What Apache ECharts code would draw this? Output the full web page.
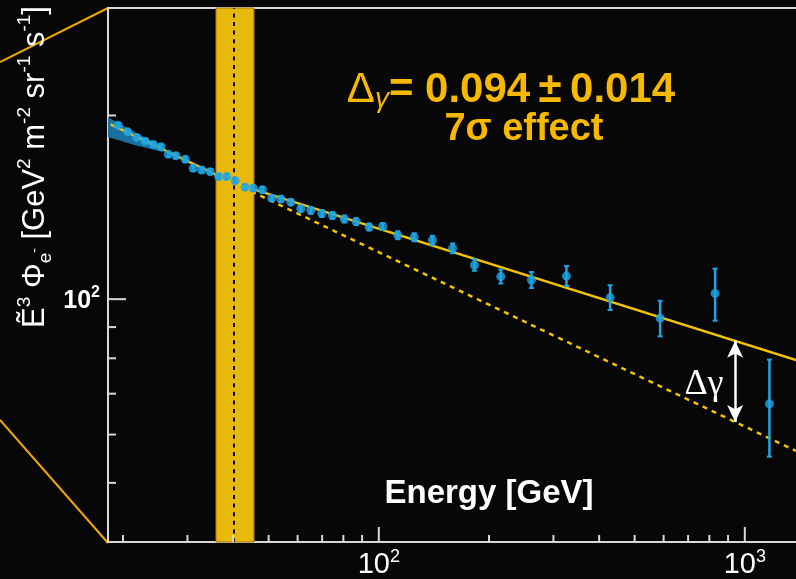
<!DOCTYPE html>
<html><head><meta charset="utf-8">
<script src="https://cdn.jsdelivr.net/npm/echarts@6/dist/echarts.min.js"></script>
<style>html,body{margin:0;padding:0;background:#070707;}#c{width:796px;height:579px;}</style>
</head><body><div id="c"></div>
<script>
// ---- data ----
const energy   = [19.4, 20.6, 21.8, 23.0, 24.2, 25.4, 26.6, 27.9, 29.6, 31.1, 32.8, 34.6, 36.5, 38.4, 40.5, 43.1, 45.4, 48.1, 51.0, 54.0, 57.5, 61.2, 65.2, 69.9, 74.7, 80.5, 86.7, 94.1, 102.5, 112.7, 124.9, 140.1, 159.1, 182.5, 215.4, 261.2, 325.6, 428.5, 587, 829.6, 1167.6];
const flux     = [192.8, 188.0, 184.1, 181.5, 179.3, 177.7, 172.7, 171.8, 169.5, 163.9, 162.8, 161.8, 158.8, 158.8, 156.4, 152.6, 152.0, 151.1, 146.4, 145.9, 144.2, 140.7, 139.8, 138.1, 137.1, 135.3, 134.0, 131.3, 131.6, 127.3, 126.3, 124.9, 121.1, 113.7, 108.9, 107.5, 109.1, 100.6, 93.1, 102.2, 67.4];
const fluxLow  = [191.2, 186.4, 182.5, 179.9, 177.7, 176.1, 171.1, 170.2, 167.9, 162.3, 161.2, 160.2, 157.2, 157.2, 154.8, 151.0, 150.4, 149.5, 144.8, 144.3, 142.6, 139.1, 138.0, 136.4, 135.4, 133.6, 132.3, 129.6, 129.9, 125.4, 124.4, 122.8, 118.9, 111.3, 106.1, 104.3, 105.1, 96.0, 86.9, 92.2, 55.2];
const fluxHigh = [194.4, 189.6, 185.7, 183.1, 180.9, 179.3, 174.3, 173.4, 171.1, 165.5, 164.4, 163.4, 160.4, 160.4, 158.0, 154.2, 153.6, 152.7, 148.0, 147.5, 145.8, 142.3, 141.6, 139.9, 138.8, 137.0, 135.7, 133.0, 133.3, 129.2, 128.2, 127.0, 123.4, 116.2, 111.8, 110.8, 113.3, 105.4, 99.4, 112.2, 79.6];

const bandE    = [18.2, 21.6, 25.75];
const bandLow  = [184.4, 178.8, 174.2];
const bandHigh = [198.7, 187.8, 177.5];

const fitE     = [18.5, 40.0, 1380];
const fitFlux  = [193.3, 155.1, 79.5];
const extE     = [40.0, 1380];
const extFlux  = [155.1, 56.4];

const breakE   = 40.06;
const breakBand = [35.9, 45.6];

const arrowE = 941, arrowTop = 85.5, arrowBottom = 62.9;

const X_MIN = 18.2, X_MAX = 1380, Y_MIN = 40, Y_MAX = 300;
const xMajorTicks = [100, 1000];
const xMinorTicks = [20, 30, 40, 50, 60, 70, 80, 90, 200, 300, 400, 500, 600, 700, 800, 900];
const yMajorTicks = [100];
const yMinorTicks = [50, 60, 70, 80, 90, 200];

const AXIS = '#d8d8d8';
const BLUE = '#1ea5e6';
const GOLD = '#f2c300';
const ORANGE = '#f6b800';
const FONT = 'Liberation Sans, Arial, sans-serif';

function tickSeries(values, axis, len) {
  return {
    type: 'custom', silent: true, z: 20, clip: false,
    data: values.map(v => axis === 'x' ? [v, Y_MIN] : [X_MIN, v]),
    renderItem(params, api) {
      const cs = params.coordSys;
      const p = api.coord([api.value(0), api.value(1)]);
      const shape = axis === 'x'
        ? {x1: p[0], y1: cs.y + cs.height, x2: p[0], y2: cs.y + cs.height - len}
        : {x1: cs.x, y1: p[1], x2: cs.x + len, y2: p[1]};
      return {type: 'line', shape, style: {stroke: AXIS, lineWidth: 2}};
    }
  };
}

const chart = echarts.init(document.getElementById('c'), null, {renderer: 'canvas'});
const supLabel = v => '{b|10}{s|' + Math.round(Math.log10(v)) + '}';

chart.setOption({
  backgroundColor: '#070707',
  animation: false,
  grid: {left: 108, right: 0, top: 8, bottom: 36},
  xAxis: [{
    type: 'log', min: X_MIN, max: X_MAX, position: 'bottom',
    axisLine: {lineStyle: {color: AXIS, width: 2}},
    axisTick: {show: false}, splitLine: {show: false},
    axisLabel: {
      showMinLabel: false, showMaxLabel: false, margin: 6,
      formatter: supLabel,
      rich: {
        b: {fontFamily: FONT, fontSize: 29, color: '#fff', lineHeight: 31, verticalAlign: 'bottom'},
        s: {fontFamily: FONT, fontSize: 18, color: '#fff', lineHeight: 31, verticalAlign: 'top'}
      }
    }
  }, {
    type: 'log', min: X_MIN, max: X_MAX, position: 'top',
    axisLine: {lineStyle: {color: AXIS, width: 2}},
    axisTick: {show: false}, axisLabel: {show: false}, splitLine: {show: false}
  }],
  yAxis: {
    type: 'log', min: Y_MIN, max: Y_MAX,
    axisLine: {lineStyle: {color: AXIS, width: 2}},
    axisTick: {show: false}, splitLine: {show: false},
    axisLabel: {
      showMinLabel: false, showMaxLabel: false, margin: 8,
      formatter: supLabel,
      rich: {
        b: {fontFamily: FONT, fontSize: 25, fontWeight: 'bold', color: '#fff', lineHeight: 29, verticalAlign: 'bottom'},
        s: {fontFamily: FONT, fontSize: 16, fontWeight: 'bold', color: '#fff', lineHeight: 29, verticalAlign: 'top'}
      }
    }
  },
  series: [
    { // break region band
      type: 'line', data: [], z: 1, silent: true,
      markArea: {
        silent: true,
        itemStyle: {color: '#e8b80a', borderColor: '#a57612', borderWidth: 1},
        data: [[{xAxis: breakBand[0]}, {xAxis: breakBand[1]}]]
      }
    },
    { // break position
      type: 'line', data: [], z: 2, silent: true,
      markLine: {
        silent: true, symbol: 'none', label: {show: false},
        lineStyle: {color: '#000', type: [4, 4.6], width: 2},
        data: [{xAxis: breakE}]
      }
    },
    { // fit uncertainty band
      type: 'custom', z: 3, silent: true,
      data: [[bandE[0], bandLow[0]]],
      renderItem(params, api) {
        const pts = [];
        for (let i = 0; i < bandE.length; i++) pts.push(api.coord([bandE[i], bandHigh[i]]));
        for (let i = bandE.length - 1; i >= 0; i--) pts.push(api.coord([bandE[i], bandLow[i]]));
        return {type: 'polygon', shape: {points: pts}, style: {fill: '#17709e'}};
      }
    },
    { // extrapolation of the low energy slope
      type: 'line', z: 4, silent: true, showSymbol: false,
      data: extE.map((e, i) => [e, extFlux[i]]),
      lineStyle: {color: GOLD, width: 2.5, type: [5, 5]}
    },
    { // fitted spectrum
      type: 'line', z: 4, silent: true, showSymbol: false,
      data: fitE.map((e, i) => [e, fitFlux[i]]),
      lineStyle: {color: GOLD, width: 2.5}
    },
    { // error bars
      type: 'custom', z: 6, silent: true,
      data: energy.map((e, i) => [e, fluxLow[i], fluxHigh[i]]),
      renderItem(params, api) {
        const lo = api.coord([api.value(0), api.value(1)]);
        const hi = api.coord([api.value(0), api.value(2)]);
        const c = 2.5;
        return {type: 'group', children: [
          {type: 'line', shape: {x1: lo[0], y1: lo[1], x2: hi[0], y2: hi[1]}, style: {stroke: BLUE, lineWidth: 2.5}},
          {type: 'line', shape: {x1: lo[0] - c, y1: lo[1], x2: lo[0] + c, y2: lo[1]}, style: {stroke: BLUE, lineWidth: 2}},
          {type: 'line', shape: {x1: hi[0] - c, y1: hi[1], x2: hi[0] + c, y2: hi[1]}, style: {stroke: BLUE, lineWidth: 2}}
        ]};
      }
    },
    { // data points
      type: 'scatter', z: 7, silent: true, symbolSize: 9,
      itemStyle: {color: BLUE},
      data: energy.map((e, i) => [e, flux[i]])
    },
    { // delta gamma arrow
      type: 'line', data: [], z: 8, silent: true,
      markLine: {
        silent: true, symbol: ['arrow', 'arrow'], symbolSize: [12, 17],
        label: {show: false},
        lineStyle: {color: '#ffffff', type: 'solid', width: 2.5},
        data: [[{coord: [arrowE, arrowTop]}, {coord: [arrowE, arrowBottom]}]]
      }
    },
    tickSeries(xMajorTicks, 'x', 15),
    tickSeries(xMinorTicks, 'x', 7),
    tickSeries(yMajorTicks, 'y', 18),
    tickSeries(yMinorTicks, 'y', 8)
  ],
  graphic: [
    {type: 'line', silent: true, z: 0, shape: {x1: 0, y1: 62, x2: 108, y2: 8}, style: {stroke: '#f0a800', lineWidth: 2}},
    {type: 'line', silent: true, z: 0, shape: {x1: 0, y1: 420, x2: 108, y2: 543}, style: {stroke: '#f0a800', lineWidth: 2}},
    {
      type: 'text', silent: true, z: 100, x: 511, y: 90,
      style: {
        text: '{d|Δ}{g|γ}{t|= 0.094\u2009±\u20090.014}', align: 'center', verticalAlign: 'middle',
        rich: {
          d: {fill: ORANGE, fontFamily: FONT, fontSize: 42, lineHeight: 46, verticalAlign: 'middle'},
          g: {fill: ORANGE, fontFamily: FONT, fontSize: 28, fontStyle: 'italic', lineHeight: 46, verticalAlign: 'bottom'},
          t: {fill: ORANGE, fontFamily: FONT, fontSize: 42, fontWeight: 'bold', lineHeight: 46, verticalAlign: 'middle'}
        }
      }
    },
    {
      type: 'text', silent: true, z: 100, x: 524, y: 130,
      style: {text: '7σ effect', align: 'center', verticalAlign: 'middle', fill: ORANGE,
              font: 'bold 38px ' + FONT}
    },
    {
      type: 'text', silent: true, z: 100, x: 489, y: 494,
      style: {text: 'Energy [GeV]', align: 'center', verticalAlign: 'middle', fill: '#ffffff',
              font: 'bold 33px ' + FONT}
    },
    {
      type: 'text', silent: true, z: 100, x: 704, y: 385,
      style: {text: 'Δγ', align: 'center', verticalAlign: 'middle', fill: '#ffffff',
              font: '36px Liberation Serif, serif'}
    },
    {
      type: 'text', silent: true, z: 100, x: 35, y: 167, rotation: Math.PI / 2,
      style: {
        text: '{n|Ẽ}{s|3}{n| Φ}{u|e}{m|-}{n| [GeV}{s|2}{n| m}{s|-2}{n| sr}{s|-1}{n| s}{s|-1}{n|]}',
        align: 'center', verticalAlign: 'middle',
        rich: {
          n: {fill: '#ffffff', fontFamily: FONT, fontSize: 31, lineHeight: 40, verticalAlign: 'middle'},
          s: {fill: '#ffffff', fontFamily: FONT, fontSize: 19, lineHeight: 40, verticalAlign: 'top'},
          u: {fill: '#ffffff', fontFamily: FONT, fontSize: 19, lineHeight: 40, verticalAlign: 'bottom'},
          m: {fill: '#ffffff', fontFamily: FONT, fontSize: 14, lineHeight: 40, verticalAlign: 'middle'}
        }
      }
    }
  ]
});
</script></body></html>
